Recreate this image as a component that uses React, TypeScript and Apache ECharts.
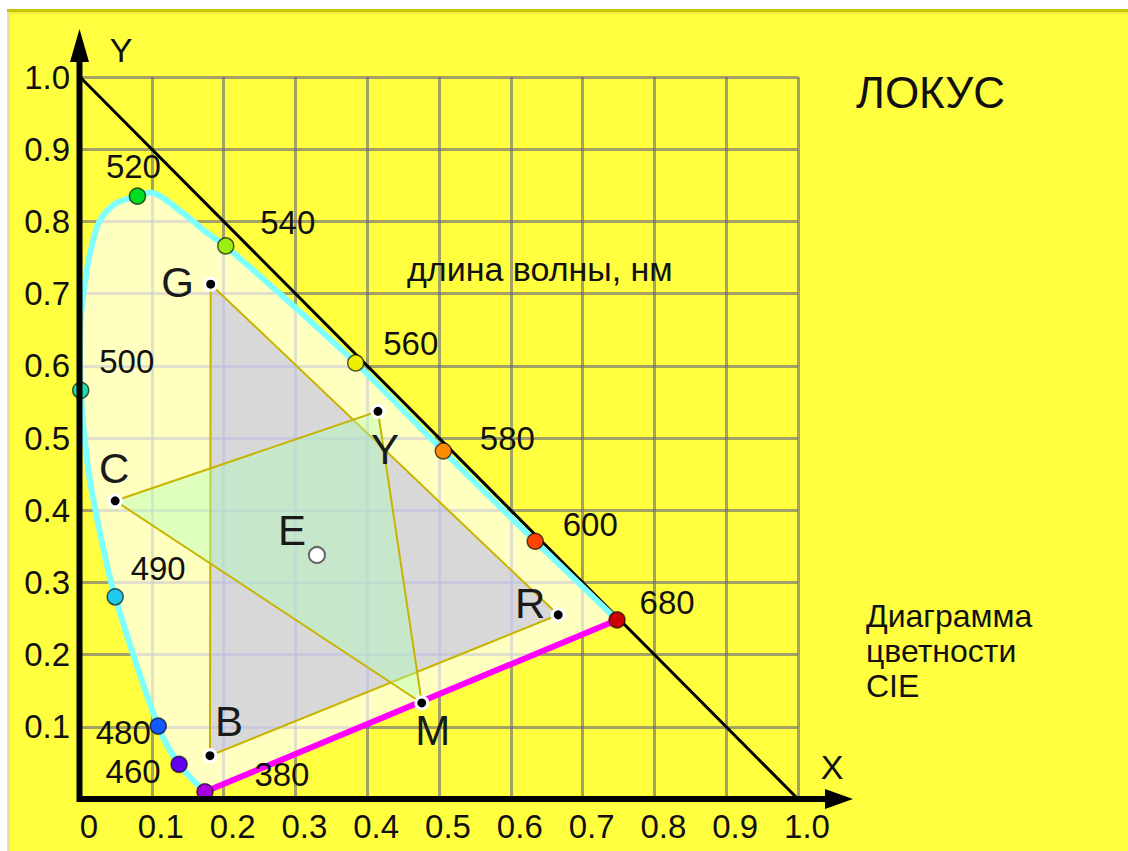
import React, { useEffect, useRef } from 'react';
import * as echarts from 'echarts';

// ---- tick labels ----
const xTickLabels = ['0', '0.1', '0.2', '0.3', '0.4', '0.5', '0.6', '0.7', '0.8', '0.9', '1.0'];
const yTickLabels = ['', '0.1', '0.2', '0.3', '0.4', '0.5', '0.6', '0.7', '0.8', '0.9', '1.0'];

// ---- spectral locus (380 nm -> 680 nm) ----
const locusX = [0.174, 0.138, 0.109, 0.049, 0.028, 0.011, 0.001, 0.0, 0.001, 0.006, 0.014, 0.027, 0.050, 0.080, 0.097, 0.143, 0.177, 0.203, 0.384, 0.506, 0.634, 0.748];
const locusY = [0.010, 0.048, 0.101, 0.280, 0.368, 0.460, 0.566, 0.618, 0.663, 0.709, 0.756, 0.800, 0.825, 0.835, 0.840, 0.812, 0.784, 0.766, 0.604, 0.482, 0.357, 0.248];

// ---- marked wavelengths on the locus ----
const wavelengths = [380, 460, 480, 490, 500, 520, 540, 560, 580, 600, 680];
const wlX = [0.174, 0.138, 0.109, 0.049, 0.001, 0.080, 0.203, 0.384, 0.506, 0.634, 0.748];
const wlY = [0.010, 0.048, 0.101, 0.280, 0.566, 0.835, 0.766, 0.604, 0.482, 0.357, 0.248];

// ---- named points ----
const pointNames = ['G', 'Y', 'C', 'E', 'B', 'M', 'R'];
const pointX = [0.182, 0.415, 0.049, 0.330, 0.181, 0.476, 0.666];
const pointY = [0.713, 0.537, 0.413, 0.338, 0.060, 0.133, 0.255];

// triangles by vertex names
const gamutTriangle = ['G', 'R', 'B'];
const complementTriangle = ['C', 'Y', 'M'];

// x + y = 1 line
const diagX = [0, 1];
const diagY = [1, 0];

// ---- styles / positions (kept apart from data) ----
const wlColors = ['#a800dc', '#6000ee', '#1458ff', '#22c8ee', '#20dcaa', '#00dc22', '#9aee10', '#eeee00', '#ff8c00', '#ff4400', '#cc0000'];
const wlLabelOffsets: number[][] = [
  [77, -17], [-46, 7], [-35, 6], [43, -28], [46, -29], [-4, -30], [62, -23], [55, -19], [64, -12], [55, -17], [50, -17],
];
const pointLabelOffsets: number[][] = [
  [-33, -2], [7, 38], [-1, -32], [-25, -24], [19, -34], [11, 28], [-28, -11],
];

const FONT = '"Liberation Sans", Arial, sans-serif';
const G_LEFT = 80;
const G_TOP = 77;
const G_W = 718;
const G_H = 722;

function pt(name: string): number[] {
  const i = pointNames.indexOf(name);
  return [pointX[i], pointY[i]];
}

function polygonSeries(points: number[][], style: any) {
  return {
    type: 'custom',
    coordinateSystem: 'cartesian2d',
    clip: false,
    silent: true,
    data: points,
    renderItem: (params: any, api: any) => {
      if (params.dataIndex !== 0) return null;
      const pts = points.map((p) => api.coord(p));
      return { type: 'polygon', shape: { points: pts }, style };
    },
  };
}

function buildOption() {
  const locusData = locusX.map((x, i) => [x, locusY[i]]);
  const purpleData = [
    [wlX[0], wlY[0]],
    [wlX[wlX.length - 1], wlY[wlY.length - 1]],
  ];
  const gamutPts = gamutTriangle.map(pt);
  const compPts = complementTriangle.map(pt);

  const x0 = G_LEFT;
  const y0 = G_TOP + G_H;

  return {
    animation: false,
    backgroundColor: '#ffff40',
    grid: { left: G_LEFT, top: G_TOP, width: G_W, height: G_H, show: false },
    xAxis: {
      type: 'value',
      min: 0,
      max: 1,
      interval: 0.1,
      axisLine: { show: false },
      axisTick: { show: false },
      splitLine: { show: true, lineStyle: { color: 'rgba(95,95,125,0.58)', width: 3 } },
      axisLabel: {
        formatter: (v: number) => xTickLabels[Math.round(v * 10)],
        fontSize: 33,
        fontFamily: FONT,
        color: '#111',
        margin: 11,
        padding: [0, 0, 0, 18],
      },
    },
    yAxis: {
      type: 'value',
      min: 0,
      max: 1,
      interval: 0.1,
      axisLine: { show: false },
      axisTick: { show: false },
      splitLine: { show: true, lineStyle: { color: 'rgba(95,95,125,0.58)', width: 3 } },
      axisLabel: {
        formatter: (v: number) => yTickLabels[Math.round(v * 10)],
        fontSize: 33,
        fontFamily: FONT,
        color: '#111',
        margin: 10,
        padding: [0, 0, 5, 0],
      },
    },
    series: [
      polygonSeries(locusData, { fill: 'rgba(255,255,255,0.67)', stroke: 'none' }),
      polygonSeries(gamutPts, { fill: 'rgba(177,177,240,0.5)', stroke: '#c8b400', lineWidth: 2 }),
      polygonSeries(compPts, { fill: 'rgba(175,255,185,0.4)', stroke: '#c8b400', lineWidth: 2 }),
      {
        type: 'line',
        clip: false,
        silent: true,
        showSymbol: false,
        data: diagX.map((x, i) => [x, diagY[i]]),
        lineStyle: { color: '#000', width: 3 },
      },
      {
        type: 'line',
        clip: false,
        silent: true,
        showSymbol: false,
        smooth: 0.3,
        data: locusData,
        lineStyle: { color: '#80ffff', width: 6 },
      },
      {
        type: 'line',
        clip: false,
        silent: true,
        showSymbol: false,
        data: purpleData,
        lineStyle: { color: '#ff00ff', width: 6 },
      },
      {
        type: 'scatter',
        clip: false,
        silent: true,
        z: 5,
        symbol: 'circle',
        symbolSize: 16,
        itemStyle: { opacity: 1, borderColor: 'rgba(0,0,0,0.65)', borderWidth: 1.5 },
        label: {
          show: true,
          position: 'inside',
          formatter: '{b}',
          fontSize: 33,
          fontFamily: FONT,
          color: '#111',
          opacity: 1,
          textBorderWidth: 0,
        },
        data: wavelengths.map((w, i) => ({
          name: String(w),
          value: [wlX[i], wlY[i]],
          itemStyle: { color: wlColors[i], opacity: 1 },
          label: { offset: wlLabelOffsets[i] },
        })),
      },
      {
        type: 'scatter',
        clip: false,
        silent: true,
        z: 5,
        symbol: 'circle',
        itemStyle: { opacity: 1 },
        label: {
          show: true,
          position: 'inside',
          formatter: '{b}',
          fontSize: 42,
          fontFamily: FONT,
          color: '#1a1a1a',
          opacity: 1,
          textBorderWidth: 0,
        },
        data: pointNames.map((n, i) => ({
          name: n,
          value: [pointX[i], pointY[i]],
          symbolSize: n === 'E' ? 16 : 12,
          itemStyle:
            n === 'E'
              ? { color: '#fff', borderColor: '#666', borderWidth: 2, opacity: 1 }
              : { color: '#000', borderColor: '#fff', borderWidth: 3, opacity: 1 },
          label: { offset: pointLabelOffsets[i] },
        })),
      },
    ],
    graphic: [
      // page margin and panel border
      { type: 'rect', z: 100, shape: { x: 0, y: 0, width: 1128, height: 9 }, style: { fill: '#fff' } },
      { type: 'rect', z: 100, shape: { x: 0, y: 0, width: 7, height: 851 }, style: { fill: '#fff' } },
      { type: 'rect', z: 100, shape: { x: 7, y: 9, width: 3, height: 842 }, style: { fill: '#e6e2a8' } },
      { type: 'rect', z: 100, shape: { x: 7, y: 9, width: 1121, height: 3 }, style: { fill: '#c8c400' } },
      { type: 'rect', z: 100, shape: { x: 10, y: 12, width: 1118, height: 2 }, style: { fill: '#eeee3a' } },
      // axes with arrows
      { type: 'line', z: 50, shape: { x1: x0 - 0.5, y1: y0 + 3, x2: x0 - 0.5, y2: 58 }, style: { stroke: '#000', lineWidth: 6 } },
      { type: 'polygon', z: 50, shape: { points: [[x0 - 0.5, 29], [x0 - 10, 62], [x0 + 9, 62]] }, style: { fill: '#000' } },
      { type: 'line', z: 50, shape: { x1: x0 - 3, y1: y0, x2: 828, y2: y0 }, style: { stroke: '#000', lineWidth: 6 } },
      { type: 'polygon', z: 50, shape: { points: [[853, y0], [825, y0 - 10], [825, y0 + 10]] }, style: { fill: '#000' } },
      // axis names
      { type: 'text', z: 50, x: 121, y: 50, style: { text: 'Y', font: `34px ${FONT}`, fill: '#111', textAlign: 'center', textVerticalAlign: 'middle' } },
      { type: 'text', z: 50, x: 832, y: 767, style: { text: 'X', font: `34px ${FONT}`, fill: '#111', textAlign: 'center', textVerticalAlign: 'middle' } },
      // titles
      { type: 'text', z: 50, x: 856, y: 92, style: { text: 'ЛОКУС', font: `44px ${FONT}`, fill: '#111', textAlign: 'left', textVerticalAlign: 'middle' } },
      { type: 'text', z: 50, x: 407, y: 269, style: { text: 'длина волны, нм', font: `34px ${FONT}`, fill: '#111', textAlign: 'left', textVerticalAlign: 'middle' } },
      {
        type: 'text',
        z: 50,
        x: 866,
        y: 598,
        style: {
          text: 'Диаграмма\nцветности\nCIE',
          font: `32px ${FONT}`,
          lineHeight: 35,
          fill: '#111',
          textAlign: 'left',
          textVerticalAlign: 'top',
        },
      },
    ],
  };
}

export default function App() {
  const ref = useRef<HTMLDivElement>(null);
  useEffect(() => {
    if (!ref.current) return;
    const chart = echarts.init(ref.current, null, { renderer: 'svg' });
    chart.setOption(buildOption() as any);
    return () => chart.dispose();
  }, []);
  return <div ref={ref} style={{ position: 'absolute', left: 0, top: 0, width: 1128, height: 851 }} />;
}
